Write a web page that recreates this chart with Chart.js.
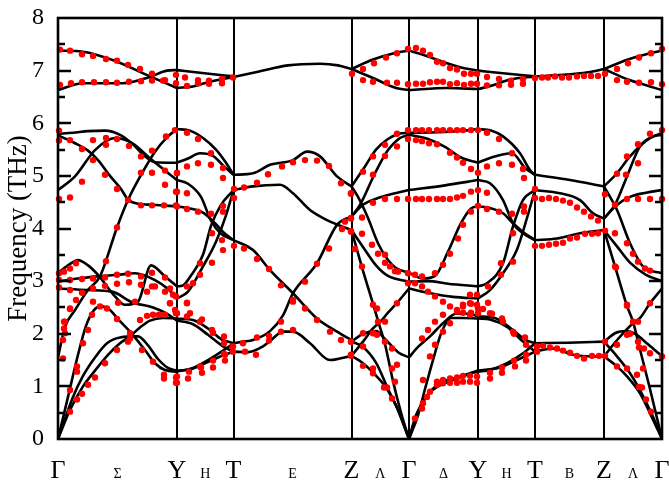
<!DOCTYPE html>
<html>
<head>
<meta charset="utf-8">
<script src="https://cdn.jsdelivr.net/npm/chart.js@4.4.1/dist/chart.umd.min.js"></script>
<style>
html,body{margin:0;padding:0;background:#fff;}
canvas{display:block;}
</style>
</head>
<body>
<canvas id="c" width="669" height="484"></canvas>
<script>
// high-symmetry path positions (arbitrary path length units) and labels
const kPoints = [0, 119, 175.5, 293.5, 351, 420, 477, 546, 604];
const kLabels = ['Γ', 'Y', 'T', 'Z', 'Γ', 'Y', 'T', 'Z', 'Γ'];
const midLabels = ['Σ', 'H', 'E', 'Λ', 'Δ', 'H', 'B', 'Λ'];
const yTicks = [0, 1, 2, 3, 4, 5, 6, 7, 8];

// calculated phonon branches (frequency in THz), per path segment
const segGY1 = [
  [[0,7.38],[25,7.36],[59,7.17],[92,6.89],[119,6.67]],
  [[0,6.63],[25,6.76],[65,6.76],[92,6.88],[109,7.0],[119,7.01]],
  [[0,5.80],[15,5.82],[30,5.85],[47,5.86],[62,5.78],[75,5.6],[87,5.37],[97,5.26],[119,5.25]],
  [[0,5.77],[17,5.62],[30,5.48],[40,5.3],[52,5.0],[63,4.75],[70,4.55],[80,4.47],[95,4.45],[119,4.42]],
  [[0,4.73],[17,4.99],[37,5.49],[57,5.72],[74,5.62],[94,5.30],[119,4.92]],
  [[0,1.55],[7,2.13],[17,2.45],[30,2.83],[42,3.09],[59,4.02],[70,4.54],[84,5.05],[97,5.46],[110,5.75],[119,5.89]],
  [[0,3.16],[10,3.3],[20,3.40],[30,3.3],[40,3.12],[57,2.71],[67,2.55],[80,2.61],[93,3.3],[107,3.09],[119,2.90]],
  [[0,2.99],[20,3.05],[40,3.09],[60,3.12],[77,3.15],[97,3.02],[110,2.85],[119,2.67]],
  [[0,2.86],[30,2.83],[54,2.80],[74,2.6],[95,2.5],[107,2.4],[119,2.25]],
  [[0,0],[12,0.55],[25,1.0],[37,1.3],[50,1.6],[62,1.82],[72,1.95],[82,2.12],[92,2.25],[105,2.3],[119,2.29]],
  [[0,0],[15,0.8],[25,1.2],[37,1.55],[49,1.82],[62,1.93],[80,1.95],[90,1.78],[100,1.52],[110,1.35],[119,1.30]],
  [[0,0],[10,0.8],[20,1.6],[28,2.15],[36,2.45],[44,2.52],[52,2.45],[60,2.28],[72,2.04],[87,1.69],[97,1.44],[107,1.31],[119,1.28]]
];
const segYT1 = [
  [[119,6.67],[135,6.7],[152,6.79],[175.5,6.88]],
  [[119,7.01],[142,6.96],[175.5,6.89]],
  [[119,5.89],[132,5.86],[145,5.72],[158,5.5],[168,5.25],[175.5,5.02]],
  [[119,5.25],[130,5.33],[142,5.43],[155,5.38],[165,5.2],[175.5,5.02]],
  [[119,4.92],[130,4.85],[143,4.6],[153,4.15],[163,3.9],[175.5,3.78]],
  [[119,4.42],[132,4.38],[145,4.3],[157,4.1],[167,3.9],[175.5,3.78]],
  [[119,2.90],[125,2.92],[132,3.08],[145,3.5],[153,4.05],[163,4.45],[175.5,4.73]],
  [[119,2.67],[130,2.8],[145,3.28],[158,3.75],[168,4.25],[175.5,4.73]],
  [[119,2.29],[135,2.26],[150,2.1],[163,1.9],[175.5,1.82]],
  [[119,2.25],[135,2.18],[150,1.98],[165,1.76],[175.5,1.66]],
  [[119,1.30],[130,1.31],[145,1.42],[160,1.55],[175.5,1.66]],
  [[119,1.28],[135,1.35],[150,1.5],[165,1.68],[175.5,1.82]]
];
const segTZ1 = [
  [[175.5,6.88],[200,6.98],[230,7.1],[262,7.13],[280,7.1],[293.5,7.03]],
  [[175.5,5.02],[195,5.05],[212,5.21],[235,5.30],[249,5.46],[262,5.37],[279,4.99],[293.5,4.80]],
  [[175.5,4.73],[195,4.8],[222,4.83],[235,4.67],[252,4.35],[269,4.16],[293.5,3.97]],
  [[175.5,3.78],[195,3.59],[212,3.21],[235,2.77],[259,2.29],[279,2.04],[293.5,1.88]],
  [[175.5,1.82],[185,1.85],[195,1.88],[212,2.05],[225,2.35],[235,2.77],[259,3.34],[279,4.07],[293.5,4.23]],
  [[175.5,1.66],[190,1.65],[205,1.76],[212,1.86],[225,2.04],[235,2.04],[252,1.82],[272,1.5],[293.5,1.58]]
];
const segZG1 = [
  [[293.5,7.03],[315,7.21],[338,7.34],[351,7.38]],
  [[293.5,7.03],[315,6.86],[338,6.67],[351,6.63]],
  [[293.5,4.80],[307,5.18],[318,5.5],[330,5.7],[341,5.8],[351,5.82]],
  [[293.5,4.23],[302,4.45],[317,5.05],[330,5.49],[342,5.72],[351,5.78]],
  [[293.5,4.80],[300,4.6],[310,4.2],[320,3.72],[330,3.4],[338,3.25],[351,3.16]],
  [[293.5,4.23],[305,4.45],[320,4.58],[335,4.66],[351,4.73]],
  [[293.5,3.97],[303.7,3.28],[315.3,2.55],[320.3,2.23],[327,1.8],[335,1.1],[343,0.5],[351,0]],
  [[293.5,3.97],[305,3.65],[318,3.3],[330,3.1],[351,2.99]],
  [[293.5,1.85],[305,2.0],[318,2.05],[327,1.9],[340,1.65],[351,1.55]],
  [[293.5,1.85],[305,1.75],[318,1.45],[330,0.95],[340,0.55],[351,0]],
  [[293.5,1.58],[305,1.44],[318.7,1.19],[328.7,0.96],[338.7,0.61],[351,0]],
  [[293.5,1.58],[305,1.85],[315,2.1],[322,2.22],[330,2.4],[338.7,2.58],[351,2.86]]
];
const segGY2 = [
  [[351,7.38],[365,7.3],[389,7.14],[405,7.05],[420,7.0]],
  [[351,6.63],[389,6.67],[420,6.65]],
  [[351,5.82],[380,5.83],[405,5.86],[420,5.89]],
  [[351,5.78],[370,5.7],[387,5.55],[403,5.35],[420,5.25]],
  [[351,4.73],[387,4.82],[420,4.92]],
  [[351,3.16],[365,3.05],[377,3.1],[390,3.56],[403,4.1],[413,4.38],[420,4.42]],
  [[351,2.99],[370,3.0],[390,2.95],[420,2.90]],
  [[351,2.86],[370,2.78],[395,2.7],[420,2.67]],
  [[351,1.55],[360,1.75],[372,1.95],[385,2.2],[398,2.38],[410,2.38],[420,2.33]],
  [[351,0],[360,0.45],[367,0.95],[375,1.5],[383,2.0],[393,2.3],[405,2.3],[420,2.29]],
  [[351,0],[358,0.45],[365,0.7],[373,0.92],[385,1.09],[400,1.17],[412,1.25],[420,1.28]],
  [[351,0],[356,0.3],[362,0.6],[370,0.85],[380,1.0],[395,1.12],[420,1.30]]
];
const segYT2 = [
  [[420,6.65],[435,6.72],[452,6.83],[477,6.89]],
  [[420,7.0],[450,6.94],[477,6.89]],
  [[420,5.89],[433,5.86],[445,5.75],[462,5.43],[472,5.11],[477,5.02]],
  [[420,5.25],[432,5.34],[454,5.43],[467,5.15],[477,5.02]],
  [[420,4.92],[432,4.86],[445,4.54],[455,4.10],[465,3.91],[477,3.78]],
  [[420,4.42],[432,4.39],[445,4.29],[455,4.1],[466,3.92],[477,3.78]],
  [[420,2.90],[429,2.96],[445,3.34],[455,4.04],[465,4.54],[477,4.73]],
  [[420,2.67],[432,2.83],[445,3.15],[459,3.6],[469,4.2],[477,4.73]],
  [[420,2.33],[437,2.3],[455,2.07],[468,1.88],[477,1.82]],
  [[420,2.29],[432,2.27],[449,2.13],[465,1.85],[477,1.66]],
  [[420,1.28],[432,1.31],[449,1.44],[465,1.63],[477,1.82]],
  [[420,1.30],[442,1.36],[459,1.5],[477,1.66]]
];
const segTZ2 = [
  [[477,6.89],[505,6.92],[530,6.97],[546,7.03]],
  [[477,5.02],[512,4.92],[546,4.80]],
  [[477,4.73],[502,4.67],[522,4.54],[535,4.29],[546,4.19]],
  [[477,3.78],[499,3.81],[522,3.91],[546,3.97]],
  [[477,1.82],[510,1.83],[546,1.85]],
  [[477,1.66],[495,1.72],[515,1.6],[535,1.57],[546,1.57]]
];
const segZG2 = [
  [[546,7.03],[570,7.21],[592,7.33],[604,7.38]],
  [[546,7.03],[570,6.83],[592,6.7],[604,6.63]],
  [[546,4.80],[559,5.05],[572,5.37],[589,5.68],[604,5.82]],
  [[546,4.19],[557,4.45],[569,4.99],[582,5.56],[595,5.75],[604,5.78]],
  [[546,4.19],[557,4.42],[572,4.6],[588,4.68],[604,4.73]],
  [[546,4.80],[559,4.35],[572,3.72],[585,3.28],[604,3.15]],
  [[546,3.97],[559,3.66],[572,3.35],[588,3.12],[604,3.0]],
  [[546,3.97],[557,3.28],[569,2.53],[575,2.23],[582,1.7],[592,0.95],[604,0]],
  [[546,1.85],[558,2.02],[568,2.05],[577,2.0],[590,1.8],[604,1.57]],
  [[546,1.85],[559,1.57],[572,1.25],[582,0.93],[595,0.42],[604,0]],
  [[546,1.57],[559,1.38],[569,1.19],[582,0.87],[593,0.45],[604,0]],
  [[546,1.57],[560,1.9],[575,2.2],[582,2.3],[592,2.58],[604,2.86]]
];

// experimental points (frequency in THz)
const dotsGY1 = [
  [2,7.40],[12,7.38],[24,7.31],[35,7.28],[48,7.22],[59,7.19],[70,7.11],[82,7.03],[94,6.94],[107,6.82],[118,6.92],
  [2,6.73],[13,6.76],[24,6.78],[36,6.78],[48,6.78],[59,6.77],[71,6.79],[83,6.80],[94,6.81],[105,6.81],[118,6.76],
  [1,5.86],[1,5.67],[12,5.68],[24,5.51],[35,5.68],[48,5.72],[59,5.70],[71,5.57],[83,5.37],[94,5.48],[108,5.75],[117,5.87],
  [48,5.59],[35,5.30],[47,5.02],[59,4.75],[70,4.54],[83,4.44],[94,4.44],[106,4.44],[119,4.42],
  [24,4.89],[1,4.56],[12,4.59],[83,5.06],[94,5.06],[107,5.10],[119,5.06],[107,4.83],[119,4.70],[59,4.02],[48,3.38],
  [1,3.15],[6,3.18],[12,3.24],[18,3.34],[1,3.02],[12,3.02],[24,3.04],[35,3.05],[47,3.07],[59,3.12],[70,3.14],[83,3.09],[94,3.16],[107,3.07],
  [1,2.88],[12,2.83],[24,2.78],[35,2.86],[47,2.91],[59,2.95],[71,2.98],[83,2.93],[94,2.90],[107,2.80],[115,2.74],
  [35,2.61],[60,2.59],[77,2.61],[89,2.80],[97,2.90],[112,2.58],[117,2.45],[12,2.47],[18,2.64],[6,2.23],[6,2.10],
  [12,0.52],[19,0.75],[24,0.86],[30,1.03],[37,1.17],[47,1.44],[59,1.69],[70,1.85],[72,1.91],
  [12,0.93],[19,1.28],[19,1.38],[25,1.82],[30,2.07],[34,2.36],[42,2.52],[49,2.48],[59,2.28],[84,1.69],[95,1.47],[106,1.22],[106,1.15],[118,1.17],[118,1.07],
  [72,2.01],[82,2.26],[89,2.34],[95,2.36],[101,2.36],[107,2.36],[118,2.39],[7,2.23],[7,2.01],[5,1.88],[12,2.48],[5,1.53]
];
const dotsYT1 = [
  [127,6.87],[140,6.82],[151,6.81],[164,6.84],[175,6.87],[129,6.71],[140,6.76],[151,6.75],[164,6.76],
  [129,5.82],[140,5.70],[153,5.43],[165,5.15],[165,4.96],[176,4.75],[176,4.58],
  [119,5.05],[129,5.18],[140,5.24],[153,5.21],[118,4.70],[129,4.67],[118,4.44],[129,4.37],[140,4.32],[153,4.28],[165,4.43],[165,4.32],
  [154,3.91],[164,3.78],[165,3.59],[154,3.35],[142,3.34],[142,3.12],[135,2.96],[129,2.90],[112,2.86],[118,2.71],[129,2.59],[112,2.58],
  [119,2.39],[129,2.58],[129,2.33],[132,2.39],[142,2.23],[144,2.27],[154,2.07],[155,2.02],[166,1.95],[166,1.82],[175,1.76],[175,1.66],
  [119,1.19],[119,1.07],[130,1.15],[131,1.28],[143,1.36],[144,1.26],[155,1.49],[155,1.36],[167,1.60],[167,1.49],[142,1.38],[166,1.62]
];
const dotsTZ1 = [
  [186,4.78],[199,4.87],[210,5.03],[224,5.18],[235,5.26],[247,5.30],[259,5.29],[271,5.19],[283,4.86],[293,4.66],[293,4.20],[293,3.94],[284,3.99],
  [176,3.67],[186,3.62],[199,3.42],[211,3.23],[223,2.92],[235,2.61],[247,2.99],[259,3.33],[271,3.62],
  [185,1.82],[187,1.66],[198,1.60],[199,1.93],[211,1.96],[211,1.87],[223,2.04],[235,2.07],[223,2.23],[235,2.64],[247,2.48],[259,2.26],[272,2.04],[283,1.88],[293,1.85],[293,1.58]
];
const dotsZG1 = [
  [294,6.94],[305,6.82],[315,6.79],[329,6.77],[339,6.77],[350,6.74],[305,7.03],[316,7.14],[328,7.25],[339,7.33],[350,7.41],
  [287,4.13],[293,4.19],[293,4.67],[293,3.95],[304,4.21],[305,5.08],[315,5.37],[315,5.02],[327,5.59],[327,5.38],[339,5.80],[339,5.56],[350,5.87],[350,5.70],
  [315,4.49],[327,4.56],[339,4.56],[350,4.56],
  [297,3.61],[304,3.28],[315,2.55],[320,2.23],[327,2.23],[339,2.58],
  [304,3.90],[314,3.69],[320,3.52],[327,3.50],[327,3.35],[332,3.28],[337,3.19],[340,3.18],[350,3.15],[350,2.96],
  [293,1.85],[293,1.60],[305,2.01],[315,2.01],[319,1.98],[305,1.76],[305,1.39],[315,1.34],[315,1.25],[327,1.85],[334,1.72],[334,1.34],[326,0.98],[329,0.98],[334,0.77],[337,1.09],[319,2.48],[339,1.41]
];
const dotsGY2 = [
  [358,6.75],[365,6.75],[372,6.78],[379,6.79],[385,6.79],[392,6.74],[399,6.76],[406,6.73],[413,6.75],[419,6.75],
  [358,7.43],[365,7.38],[372,7.30],[379,7.17],[385,7.14],[392,7.05],[399,7.02],[406,6.94],[413,6.94],[419,6.94],
  [358,5.87],[364,5.87],[371,5.87],[379,5.87],[385,5.87],[392,5.87],[399,5.87],[405,5.87],[413,5.87],[420,5.87],
  [358,5.68],[364,5.66],[371,5.62],[379,5.60],[392,5.44],[399,5.35],[405,5.25],[413,5.13],[420,5.06],
  [358,4.56],[364,4.56],[371,4.56],[379,4.56],[385,4.56],[392,4.56],[399,4.59],[405,4.62],[413,4.70],[420,4.73],
  [420,4.43],[413,4.32],[405,4.07],[400,3.81],[392,3.52],[385,3.31],[377,3.15],
  [357,3.12],[364,3.09],[357,2.96],[364,2.90],[370,2.80],[377,2.71],[385,2.61],[392,2.52],[399,2.45],[405,2.40],[413,2.40],[420,2.39],[405,2.55],[413,2.57],[420,2.48],[385,2.36],[377,2.23],[370,2.07],[364,1.91],
  [412,2.74],[419,2.74],[412,2.58],[419,2.55],
  [357,0.39],[364,0.58],[365,0.68],[369,0.80],[372,0.90],[379,1.09],[385,1.12],[392,1.15],[399,1.17],[405,1.20],[412,1.20],[419,1.19],
  [379,1.03],[385,1.06],[392,1.07],[399,1.07],[405,1.09],[412,1.09],[419,1.07],[365,1.12],[372,1.57],[377,1.79],[385,2.04],[392,2.20],[399,2.42],[405,2.52],[412,2.36]
];
const dotsYT2 = [
  [429,6.88],[441,6.84],[453,6.81],[465,6.84],[429,6.72],[441,6.72],[453,6.73],[465,6.75],
  [429,5.82],[441,5.70],[454,5.43],[465,5.13],[466,4.96],[477,4.75],[477,4.58],[429,5.18],[441,5.24],[454,5.21],[429,4.68],
  [429,4.37],[441,4.32],[454,4.28],[466,4.42],[466,4.32],[455,3.91],[455,3.37],[443,3.34],[443,3.12],[430,2.90],[430,2.59],[425,2.47],[434,2.38],
  [432,1.26],[432,1.15],[444,1.36],[444,1.26],[456,1.49],[457,1.38],[468,1.60],[468,1.49],[432,2.39],[444,2.29],[445,2.23],[455,2.04],[456,2.00],[467,1.93],[468,1.79]
];
const dotsTZ2 = [
  [477,6.86],[484,6.87],[490,6.87],[497,6.89],[504,6.87],[511,6.87],[519,6.89],[526,6.90],[533,6.90],[540,6.90],[547,6.94],
  [484,4.56],[491,4.58],[498,4.56],[505,4.53],[512,4.49],[519,4.40],[526,4.32],[533,4.23],[540,4.15],
  [477,3.67],[484,3.67],[491,3.69],[498,3.71],[505,3.73],[512,3.81],[519,3.83],[527,3.90],[534,3.90],[540,3.91],[547,3.96],[547,4.65],
  [479,1.76],[479,1.66],[485,1.77],[492,1.74],[499,1.72],[505,1.68],[512,1.64],[519,1.58],[526,1.53],[534,1.58],[541,1.58],[547,1.58],[547,1.85]
];
const dotsZG2 = [
  [559,7.03],[570,7.14],[581,7.25],[593,7.33],[604,7.41],[559,6.82],[569,6.79],[581,6.77],[593,6.78],[604,6.74],
  [557,4.45],[559,5.04],[568,5.02],[569,5.37],[580,5.24],[580,5.60],[592,5.80],[604,5.87],[569,4.56],[580,4.56],[592,4.56],[604,4.56],
  [557,3.91],[569,3.72],[575,3.52],[580,3.37],[587,3.24],[592,3.20],[569,2.53],[575,2.23],[580,2.23],[592,2.58],[558,3.26],
  [559,1.79],[559,1.38],[569,1.34],[569,1.98],[572,2.00],[579,1.22],[580,1.85],[581,1.74],[586,1.72],[592,1.63],[585,1.34],
  [581,0.99],[584,0.98],[588,0.75],[593,0.52],[604,1.57],[557,3.28],[569,2.55]
];

// ---- build chart ----
const SERIF = 'Liberation Serif';
Chart.defaults.font.family = SERIF;
Chart.defaults.color = '#000';
const segments = [segGY1, segYT1, segTZ1, segZG1, segGY2, segYT2, segTZ2, segZG2];
const dotSets = [dotsGY1, dotsYT1, dotsTZ1, dotsZG1, dotsGY2, dotsYT2, dotsTZ2, dotsZG2];

const tickVals = [], tickText = [], tickIsMid = [];
kPoints.forEach((p, i) => {
  tickVals.push(p); tickText.push(kLabels[i]); tickIsMid.push(false);
  if (i < kPoints.length - 1) {
    tickVals.push((p + kPoints[i + 1]) / 2); tickText.push(midLabels[i]); tickIsMid.push(true);
  }
});

const datasets = [];
datasets.push({
  label: 'exp',
  data: [].concat(...dotSets),
  showLine: false,
  pointRadius: 3.2,
  pointHoverRadius: 3.2,
  pointBackgroundColor: '#ff0000',
  pointBorderWidth: 0,
  borderColor: '#ff0000',
  clip: false
});
segments.forEach(seg => seg.forEach(band => {
  datasets.push({
    label: 'band',
    data: band,
    showLine: true,
    borderColor: '#000',
    borderWidth: 2.6,
    pointRadius: 0,
    cubicInterpolationMode: 'monotone',
    fill: false
  });
}));

const framePlugin = {
  id: 'frame',
  afterDatasetsDraw(chart) {
    const {ctx, chartArea: a, scales: {y}} = chart;
    ctx.save();
    ctx.strokeStyle = '#000';
    ctx.lineWidth = 2.4;
    for (let i = 1; i < yTicks.length * 2 - 2; i++) {
      const v = i / 2;
      const py = Math.round(y.getPixelForValue(v));
      const len = (i % 2 === 0) ? 13 : 7;
      ctx.beginPath();
      ctx.moveTo(a.left, py); ctx.lineTo(a.left + len, py);
      ctx.moveTo(a.right, py); ctx.lineTo(a.right - len, py);
      ctx.stroke();
    }
    ctx.lineWidth = 2.6;
    ctx.strokeRect(a.left, a.top, a.right - a.left, a.bottom - a.top);
    ctx.restore();
  }
};

new Chart(document.getElementById('c'), {
  type: 'scatter',
  data: { datasets },
  options: {
    responsive: false,
    animation: false,
    devicePixelRatio: 1,
    layout: { padding: { top: 18, right: 7, left: 0, bottom: 0 } },
    plugins: { legend: { display: false }, tooltip: { enabled: false } },
    scales: {
      x: {
        type: 'linear',
        min: 0, max: 604,
        afterBuildTicks: s => { s.ticks = tickVals.map(v => ({ value: v })); },
        afterFit: s => { s.height = 45; s.paddingLeft = 0; s.paddingRight = 0; },
        border: { display: false },
        grid: {
          drawTicks: false,
          lineWidth: 2,
          color: c => {
            const v = c.tick ? c.tick.value : -1;
            const idx = kPoints.indexOf(v);
            return (idx > 0 && idx < kPoints.length - 1) ? '#000' : 'rgba(0,0,0,0)';
          }
        },
        ticks: {
          autoSkip: false,
          maxRotation: 0,
          padding: 17,
          color: '#000',
          callback: (v, i) => tickText[i],
          font: c => tickIsMid[c.index]
            ? { family: SERIF, size: 14, lineHeight: 2.67 }
            : { family: SERIF, size: 26, lineHeight: 1.2 }
        }
      },
      y: {
        min: 0, max: 8,
        afterBuildTicks: s => { s.ticks = yTicks.map(v => ({ value: v })); },
        afterFit: s => { s.width = 58; s.paddingTop = 0; s.paddingBottom = 0; },
        border: { display: false },
        grid: { display: false },
        ticks: { color: '#000', padding: 6, font: { family: SERIF, size: 24 } },
        title: {
          display: true,
          text: 'Frequency (THz)',
          color: '#000',
          font: { family: SERIF, size: 27 },
          padding: { top: 3, bottom: 0 }
        }
      }
    }
  },
  plugins: [framePlugin]
});
</script>
</body>
</html>
